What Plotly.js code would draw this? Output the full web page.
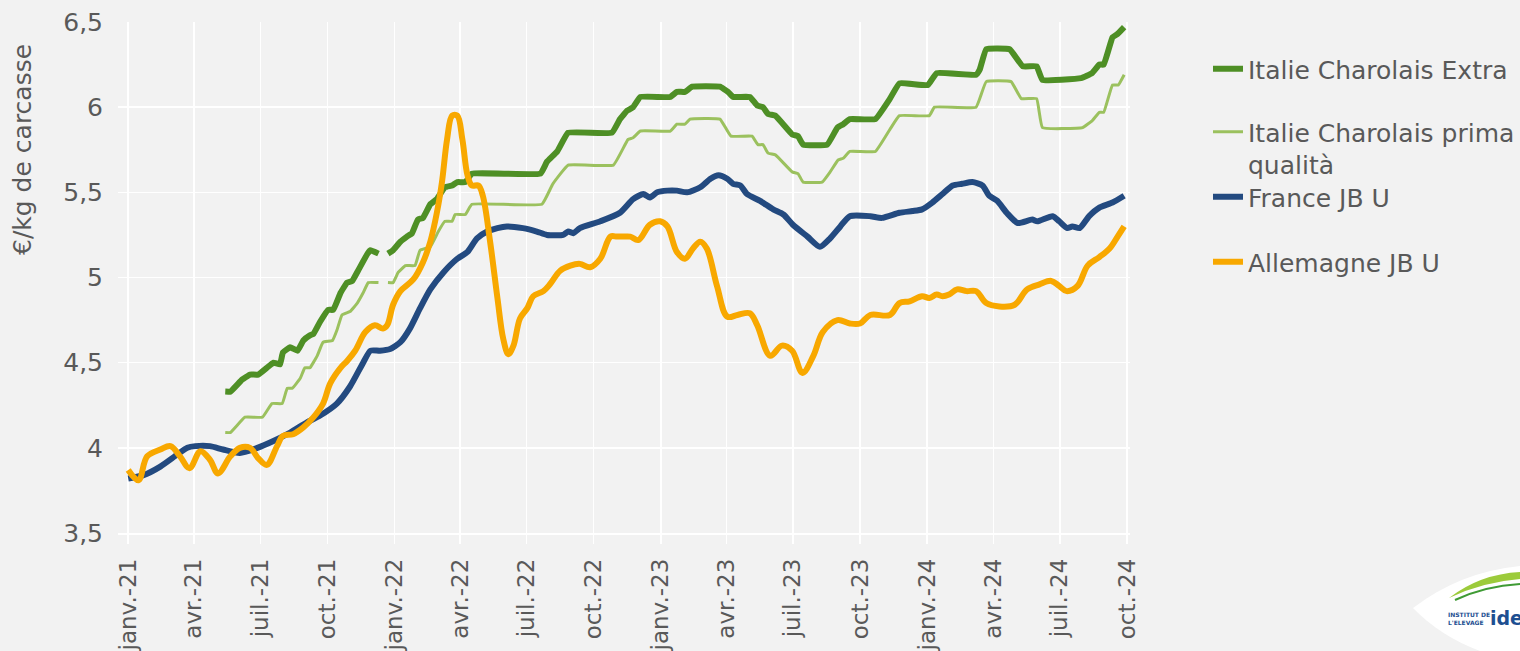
<!DOCTYPE html>
<html>
<head>
<meta charset="utf-8">
<script src="https://cdn.plot.ly/plotly-3.0.1.min.js"></script>
<style>
html,body{margin:0;padding:0;background:#f2f2f2;}
#chart{width:1520px;height:651px;}
</style>
</head>
<body>
<div id="chart"></div>
<script>
// ---- Tick labels ----
const tickDates = ["2021-01-01","2021-04-01","2021-07-01","2021-10-01","2022-01-01","2022-04-01","2022-07-01","2022-10-01","2023-01-01","2023-04-01","2023-07-01","2023-10-01","2024-01-01","2024-04-01","2024-07-01","2024-10-01"];
const tickLabels = ["janv.-21","avr.-21","juil.-21","oct.-21","janv.-22","avr.-22","juil.-22","oct.-22","janv.-23","avr.-23","juil.-23","oct.-23","janv.-24","avr.-24","juil.-24","oct.-24"];

// ---- Series names ----
const seriesNames = ["Italie Charolais Extra","Italie Charolais prima<br>qualità","France JB U","Allemagne JB U"];

// ---- Italie Charolais Extra ----
const extraDates = ["2021-05-14","2021-05-21","2021-06-06","2021-06-17","2021-06-28","2021-07-10","2021-07-19","2021-07-28","2021-08-01","2021-08-11","2021-08-21","2021-08-29","2021-09-07","2021-09-12","2021-09-21","2021-10-02","2021-10-09","2021-10-19","2021-10-28","2021-11-04","2021-11-12","2021-11-25","2021-11-29","2021-12-10","2021-12-16","2021-12-23","2021-12-30","2022-01-09","2022-01-18","2022-01-25","2022-02-02","2022-02-09","2022-02-19","2022-02-28","2022-03-11","2022-03-21","2022-03-28","2022-04-08","2022-04-17","2022-07-20","2022-07-29","2022-08-12","2022-08-27","2022-10-26","2022-11-06","2022-11-16","2022-11-24","2022-12-04","2023-01-14","2023-01-23","2023-02-03","2023-02-13","2023-03-23","2023-04-03","2023-04-10","2023-05-03","2023-05-13","2023-05-21","2023-05-28","2023-06-07","2023-06-30","2023-07-08","2023-07-15","2023-08-17","2023-08-31","2023-09-08","2023-09-17","2023-10-22","2023-11-11","2023-11-24","2024-01-02","2024-01-14","2024-03-08","2024-03-13","2024-03-22","2024-04-23","2024-05-11","2024-05-30","2024-06-07","2024-07-30","2024-08-14","2024-08-24","2024-08-30","2024-09-11","2024-09-18","2024-09-27"];
const extraValues = [4.33,4.33,4.40,4.43,4.43,4.47,4.50,4.49,4.56,4.59,4.57,4.63,4.66,4.67,4.74,4.81,4.81,4.91,4.97,4.98,5.04,5.14,5.16,5.14,null,5.14,5.16,5.21,5.24,5.26,5.34,5.35,5.43,5.46,5.53,5.54,5.56,5.56,5.61,5.61,5.68,5.74,5.85,5.85,5.93,5.98,6.00,6.06,6.06,6.09,6.09,6.12,6.12,6.09,6.06,6.06,6.01,6.00,5.96,5.95,5.84,5.83,5.78,5.78,5.88,5.90,5.93,5.93,6.05,6.14,6.13,6.20,6.19,6.22,6.34,6.34,6.24,6.24,6.16,6.17,6.20,6.25,6.25,6.41,6.43,6.47];

// ---- Italie Charolais prima qualità ----
const primaDates = ["2021-05-14","2021-05-21","2021-06-10","2021-07-04","2021-07-17","2021-07-31","2021-08-07","2021-08-14","2021-08-25","2021-08-31","2021-09-07","2021-09-17","2021-09-25","2021-10-08","2021-10-14","2021-10-21","2021-11-01","2021-11-11","2021-11-19","2021-11-26","2021-12-10","2021-12-16","2021-12-23","2021-12-30","2022-01-06","2022-01-16","2022-01-29","2022-02-05","2022-02-19","2022-03-02","2022-03-11","2022-03-21","2022-03-25","2022-04-08","2022-04-17","2022-07-22","2022-08-06","2022-08-27","2022-10-28","2022-11-17","2022-11-24","2022-12-04","2023-01-14","2023-01-23","2023-02-03","2023-02-10","2023-03-23","2023-04-07","2023-05-06","2023-05-14","2023-05-21","2023-05-28","2023-06-07","2023-06-30","2023-07-08","2023-07-15","2023-08-10","2023-08-21","2023-09-01","2023-09-08","2023-09-17","2023-10-22","2023-11-11","2023-11-24","2024-01-04","2024-01-11","2024-03-08","2024-03-22","2024-04-25","2024-05-09","2024-05-30","2024-06-07","2024-08-01","2024-08-14","2024-08-24","2024-08-30","2024-09-11","2024-09-19","2024-09-27"];
const primaValues = [4.09,4.09,4.18,4.18,4.26,4.26,4.35,4.35,4.41,4.47,4.47,4.54,4.62,4.63,4.69,4.78,4.80,4.85,4.91,4.97,4.97,null,4.97,4.97,5.03,5.07,5.07,5.16,5.18,5.27,5.33,5.33,5.37,5.37,5.43,5.43,5.55,5.66,5.66,5.81,5.82,5.86,5.86,5.90,5.90,5.93,5.93,5.83,5.83,5.78,5.78,5.73,5.72,5.62,5.61,5.56,5.56,5.62,5.69,5.70,5.74,5.74,5.87,5.95,5.95,6.00,6.00,6.15,6.15,6.05,6.05,5.88,5.88,5.92,5.97,5.97,6.13,6.13,6.19];

// ---- France JB U ----
const franceDates = ["2021-01-01","2021-01-22","2021-02-14","2021-03-09","2021-03-23","2021-04-03","2021-04-23","2021-05-11","2021-06-03","2021-06-27","2021-07-19","2021-08-11","2021-09-03","2021-09-21","2021-10-14","2021-11-01","2021-11-19","2021-11-29","2021-12-12","2021-12-26","2022-01-09","2022-01-22","2022-02-05","2022-02-19","2022-03-09","2022-03-28","2022-04-11","2022-04-24","2022-05-08","2022-05-22","2022-06-04","2022-06-26","2022-07-15","2022-07-29","2022-08-20","2022-08-27","2022-09-03","2022-09-12","2022-10-10","2022-11-06","2022-11-24","2022-12-08","2022-12-17","2022-12-27","2023-01-10","2023-01-23","2023-02-06","2023-02-24","2023-03-10","2023-03-21","2023-04-02","2023-04-10","2023-04-20","2023-04-29","2023-05-17","2023-06-04","2023-06-18","2023-07-01","2023-07-21","2023-08-07","2023-08-21","2023-09-04","2023-09-17","2023-10-15","2023-10-31","2023-11-24","2023-12-12","2023-12-25","2024-01-08","2024-01-22","2024-02-05","2024-02-18","2024-03-03","2024-03-17","2024-03-26","2024-04-06","2024-04-19","2024-05-04","2024-05-24","2024-05-31","2024-06-21","2024-06-30","2024-07-11","2024-07-18","2024-07-28","2024-08-10","2024-08-24","2024-09-11","2024-09-27"];
const franceValues = [3.82,3.84,3.89,3.96,4.00,4.01,4.01,3.99,3.97,4.00,4.04,4.09,4.15,4.19,4.26,4.36,4.50,4.57,4.57,4.58,4.62,4.70,4.82,4.93,5.03,5.11,5.15,5.23,5.27,5.29,5.30,5.29,5.27,5.25,5.25,5.27,5.26,5.29,5.33,5.38,5.46,5.49,5.47,5.50,5.51,5.51,5.50,5.53,5.58,5.60,5.58,5.55,5.54,5.49,5.45,5.40,5.37,5.31,5.24,5.18,5.23,5.30,5.36,5.36,5.35,5.38,5.39,5.40,5.44,5.49,5.54,5.55,5.56,5.54,5.48,5.45,5.38,5.32,5.34,5.33,5.36,5.33,5.29,5.30,5.29,5.36,5.41,5.44,5.48];

// ---- Allemagne JB U ----
const allemagneDates = ["2021-01-01","2021-01-15","2021-01-27","2021-02-14","2021-02-28","2021-03-13","2021-03-26","2021-04-10","2021-04-23","2021-05-04","2021-05-21","2021-06-03","2021-06-17","2021-06-28","2021-07-10","2021-07-24","2021-08-01","2021-08-15","2021-08-29","2021-09-12","2021-09-25","2021-10-05","2021-10-19","2021-10-28","2021-11-08","2021-11-22","2021-12-05","2021-12-16","2021-12-22","2021-12-30","2022-01-09","2022-01-27","2022-02-09","2022-02-19","2022-02-28","2022-03-07","2022-03-14","2022-03-21","2022-03-28","2022-04-04","2022-04-11","2022-04-17","2022-04-26","2022-05-02","2022-05-12","2022-05-22","2022-05-30","2022-06-06","2022-06-13","2022-06-22","2022-07-02","2022-07-10","2022-07-24","2022-08-02","2022-08-16","2022-08-30","2022-09-12","2022-09-26","2022-10-10","2022-10-24","2022-11-02","2022-11-10","2022-11-20","2022-12-01","2022-12-17","2022-12-31","2023-01-10","2023-01-23","2023-02-03","2023-02-14","2023-02-24","2023-03-05","2023-03-19","2023-04-02","2023-04-16","2023-05-03","2023-05-13","2023-05-31","2023-06-16","2023-06-30","2023-07-14","2023-07-29","2023-08-11","2023-08-31","2023-09-17","2023-10-01","2023-10-15","2023-11-11","2023-11-24","2023-12-08","2023-12-25","2024-01-04","2024-01-14","2024-01-22","2024-01-31","2024-02-11","2024-02-24","2024-03-08","2024-03-22","2024-04-09","2024-04-30","2024-05-17","2024-06-03","2024-06-19","2024-06-30","2024-07-10","2024-07-25","2024-08-08","2024-08-24","2024-09-07","2024-09-18","2024-09-27"];
const allemagneValues = [3.87,3.81,3.95,3.99,4.01,3.95,3.88,3.98,3.93,3.85,3.95,4.00,4.00,3.94,3.90,4.01,4.07,4.08,4.12,4.18,4.26,4.38,4.47,4.51,4.57,4.68,4.72,4.70,4.72,4.84,4.92,4.99,5.09,5.21,5.38,5.56,5.81,5.95,5.95,5.81,5.60,5.54,5.54,5.48,5.21,4.88,4.64,4.55,4.60,4.76,4.82,4.89,4.92,4.96,5.04,5.07,5.08,5.06,5.11,5.24,5.24,5.24,5.24,5.22,5.31,5.33,5.30,5.15,5.11,5.17,5.21,5.17,4.95,4.77,4.78,4.79,4.72,4.54,4.60,4.57,4.44,4.54,4.68,4.75,4.73,4.73,4.78,4.78,4.85,4.86,4.89,4.88,4.90,4.89,4.90,4.93,4.92,4.92,4.85,4.83,4.84,4.93,4.96,4.98,4.95,4.92,4.95,5.07,5.12,5.17,5.24,5.30];

const colors = ["#4e8f25", "#9bc15e", "#234a80", "#f8a800"];
const textColor = "#595959";
const FONT = "DejaVu Sans, sans-serif";

const traces = [
  {x: extraDates, y: extraValues, name: seriesNames[0], legend: "legend",
   line: {color: colors[0], width: 6, shape: "spline", smoothing: 0.3}},
  {x: primaDates, y: primaValues, name: seriesNames[1], legend: "legend2",
   line: {color: colors[1], width: 3, shape: "spline", smoothing: 0.3}},
  {x: franceDates, y: franceValues, name: seriesNames[2], legend: "legend3",
   line: {color: colors[2], width: 6, shape: "spline", smoothing: 0.6}},
  {x: allemagneDates, y: allemagneValues, name: seriesNames[3], legend: "legend4",
   line: {color: colors[3], width: 6, shape: "spline", smoothing: 1}}
].map(t => Object.assign({type: "scatter", mode: "lines", connectgaps: false, hoverinfo: "skip"}, t));

// pixel helpers for layout placement (plot area: x 118..1130, y 22..533)
const PL = 118, PR = 1130, PT = 22, PB = 533;
const px = v => (v - PL) / (PR - PL);
const py = v => (PB - v) / (PB - PT);

const legendBase = {
  font: {family: FONT, size: 25, color: textColor},
  bgcolor: "rgba(0,0,0,0)", borderwidth: 0,
  xanchor: "left", x: px(1208), itemclick: false, itemdoubleclick: false
};

const layout = {
  width: 1520, height: 651,
  paper_bgcolor: "#f2f2f2", plot_bgcolor: "#f2f2f2",
  margin: {l: PL, r: 1520 - PR, t: PT, b: 651 - PB, pad: 0, autoexpand: false},
  separators: ", ",
  font: {family: FONT, color: textColor},
  showlegend: true,
  xaxis: {
    type: "date",
    range: ["2020-12-18", "2024-10-05"],
    tickmode: "array", tickvals: tickDates, ticktext: tickLabels,
    tickangle: -90, tickfont: {family: FONT, size: 23, color: textColor},
    ticks: "outside", ticklen: 9, tickwidth: 1.5, tickcolor: "#ffffff",
    ticklabelstandoff: 6,
    showgrid: true, gridcolor: "#ffffff", gridwidth: 1.5,
    showline: true, linecolor: "#ffffff", linewidth: 1.5,
    zeroline: false, fixedrange: true
  },
  yaxis: {
    range: [3.5, 6.5], tickmode: "linear", tick0: 3.5, dtick: 0.5,
    tickfont: {family: FONT, size: 25, color: textColor},
    ticks: "", ticklabelstandoff: 14,
    showgrid: true, gridcolor: "#ffffff", gridwidth: 1.5,
    showline: false, zeroline: false, fixedrange: true
  },
  legend:  Object.assign({}, legendBase, {y: py(69),  yanchor: "middle"}),
  legend2: Object.assign({}, legendBase, {y: py(109), yanchor: "top", valign: "top"}),
  legend3: Object.assign({}, legendBase, {y: py(197), yanchor: "middle"}),
  legend4: Object.assign({}, legendBase, {y: py(262), yanchor: "middle"}),
  annotations: [
    {text: "€/kg de carcasse", textangle: -90, xref: "paper", yref: "paper",
     x: px(22), y: py(150), xanchor: "center", yanchor: "middle", showarrow: false,
     font: {family: FONT, size: 25, color: textColor}},
    {text: "<b>INSTITUT DE<br>L'ELEVAGE</b>", xref: "paper", yref: "paper",
     x: px(1447), y: py(618), xanchor: "left", yanchor: "middle", showarrow: false, align: "left",
     borderpad: 0, font: {family: FONT, size: 6, color: "#1d4f91"}},
    {text: "<b>idele</b>", xref: "paper", yref: "paper",
     x: px(1489), y: py(618), xanchor: "left", yanchor: "middle", showarrow: false,
     borderpad: 0, font: {family: FONT, size: 19, color: "#1d4f91"}}
  ],
  shapes: [
    {type: "path", xref: "paper", yref: "paper", layer: "below",
     path: `M ${px(1413)},${py(608)} Q ${px(1460)},${py(572)} ${px(1520)},${py(566)} L ${px(1520)},${py(651)} L ${px(1480)},${py(651)} Q ${px(1440)},${py(636)} ${px(1413)},${py(608)} Z`,
     fillcolor: "#ffffff", line: {width: 0}},
    {type: "path", xref: "paper", yref: "paper",
     path: `M ${px(1449)},${py(598)} Q ${px(1480)},${py(574)} ${px(1520)},${py(572)} L ${px(1520)},${py(579)} Q ${px(1482)},${py(582)} ${px(1449)},${py(598)} Z`,
     fillcolor: "#9ccb3b", line: {width: 0}},
    {type: "path", xref: "paper", yref: "paper",
     path: `M ${px(1455)},${py(600)} Q ${px(1485)},${py(586)} ${px(1520)},${py(584)}`,
     line: {color: "#3f9b35", width: 2}}
  ]
};

Plotly.newPlot("chart", traces, layout, {displayModeBar: false, staticPlot: true});
</script>
</body>
</html>
